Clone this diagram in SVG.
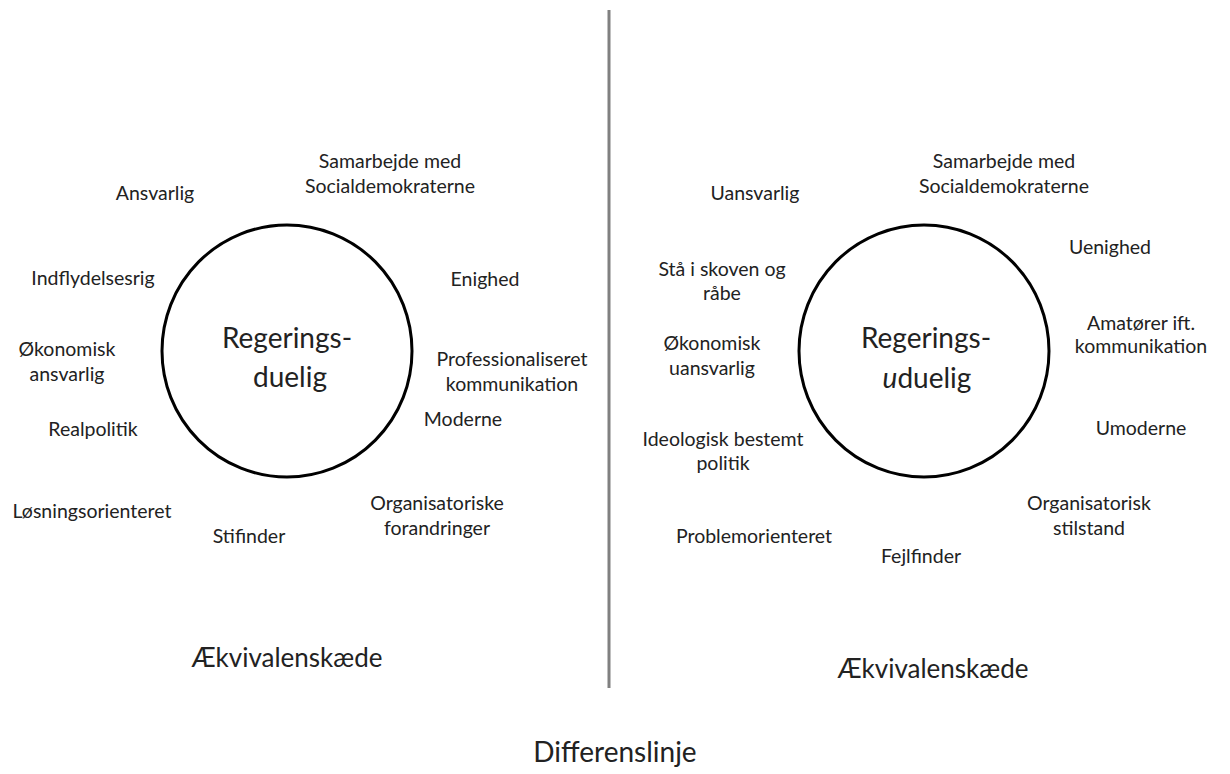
<svg xmlns="http://www.w3.org/2000/svg" width="1230" height="774" viewBox="0 0 1230 774">
<style>
text{font-family:Lato,"Open Sans","Liberation Sans",sans-serif;fill:#222;text-anchor:middle;dominant-baseline:central}
.l{font-size:19.5px}
.c{font-size:28px}
.e{font-size:26px;dominant-baseline:alphabetic}
.d{font-size:28px;dominant-baseline:alphabetic}
.ring{fill:none;stroke:#000;stroke-width:3}
</style>
<rect width="1230" height="774" fill="#fff"/>
<g id="connectors">
<line x1="609" y1="10" x2="609" y2="688" stroke="#808080" stroke-width="3"/>
</g>
<g id="left-center"><ellipse class="ring" cx="287" cy="351" rx="125" ry="126"/><text class="c" x="287" y="337">Regerings-</text><text class="c" x="290" y="376">duelig</text></g>
<g id="l-samarbejde"><text class="l" x="390" y="160">Samarbejde med</text><text class="l" x="390" y="185">Socialdemokraterne</text></g>
<g id="l-ansvarlig"><text class="l" x="155" y="192">Ansvarlig</text></g>
<g id="l-indflydelsesrig"><text class="l" x="93" y="277">Indflydelsesrig</text></g>
<g id="l-enighed"><text class="l" x="485" y="278">Enighed</text></g>
<g id="l-okonomisk"><text class="l" x="67" y="348">Økonomisk</text><text class="l" x="67" y="373">ansvarlig</text></g>
<g id="l-prof"><text class="l" x="512" y="358">Professionaliseret</text><text class="l" x="512" y="383">kommunikation</text></g>
<g id="l-moderne"><text class="l" x="463" y="418">Moderne</text></g>
<g id="l-realpolitik"><text class="l" x="93" y="428">Realpolitik</text></g>
<g id="l-org"><text class="l" x="437" y="502">Organisatoriske</text><text class="l" x="437" y="527">forandringer</text></g>
<g id="l-losning"><text class="l" x="92" y="510">Løsningsorienteret</text></g>
<g id="l-stifinder"><text class="l" x="249" y="535">Stifinder</text></g>
<g id="l-aekv"><text class="e" x="287" y="667">Ækvivalenskæde</text></g>
<g id="right-center"><ellipse class="ring" cx="924" cy="351" rx="125" ry="126"/><text class="c" x="926" y="337">Regerings-</text><text class="c" x="927" y="377"><tspan font-style="italic">u</tspan>duelig</text></g>
<g id="r-samarbejde"><text class="l" x="1004" y="160">Samarbejde med</text><text class="l" x="1004" y="185">Socialdemokraterne</text></g>
<g id="r-uansvarlig"><text class="l" x="755" y="192">Uansvarlig</text></g>
<g id="r-uenighed"><text class="l" x="1110" y="246">Uenighed</text></g>
<g id="r-staa"><text class="l" x="722" y="268">Stå i skoven og</text><text class="l" x="722" y="292">råbe</text></g>
<g id="r-amatorer"><text class="l" x="1141" y="322">Amatører ift.</text><text class="l" x="1141" y="345">kommunikation</text></g>
<g id="r-okonomisk"><text class="l" x="712" y="342">Økonomisk</text><text class="l" x="712" y="367">uansvarlig</text></g>
<g id="r-ideologisk"><text class="l" x="723" y="438">Ideologisk bestemt</text><text class="l" x="723" y="462">politik</text></g>
<g id="r-umoderne"><text class="l" x="1141" y="427">Umoderne</text></g>
<g id="r-org"><text class="l" x="1089" y="502">Organisatorisk</text><text class="l" x="1089" y="527">stilstand</text></g>
<g id="r-problem"><text class="l" x="754" y="535">Problemorienteret</text></g>
<g id="r-fejlfinder"><text class="l" x="921" y="555">Fejlfinder</text></g>
<g id="r-aekv"><text class="e" x="933" y="678">Ækvivalenskæde</text></g>
<g id="differenslinje"><text class="d" x="615" y="762">Differenslinje</text></g>
</svg>
